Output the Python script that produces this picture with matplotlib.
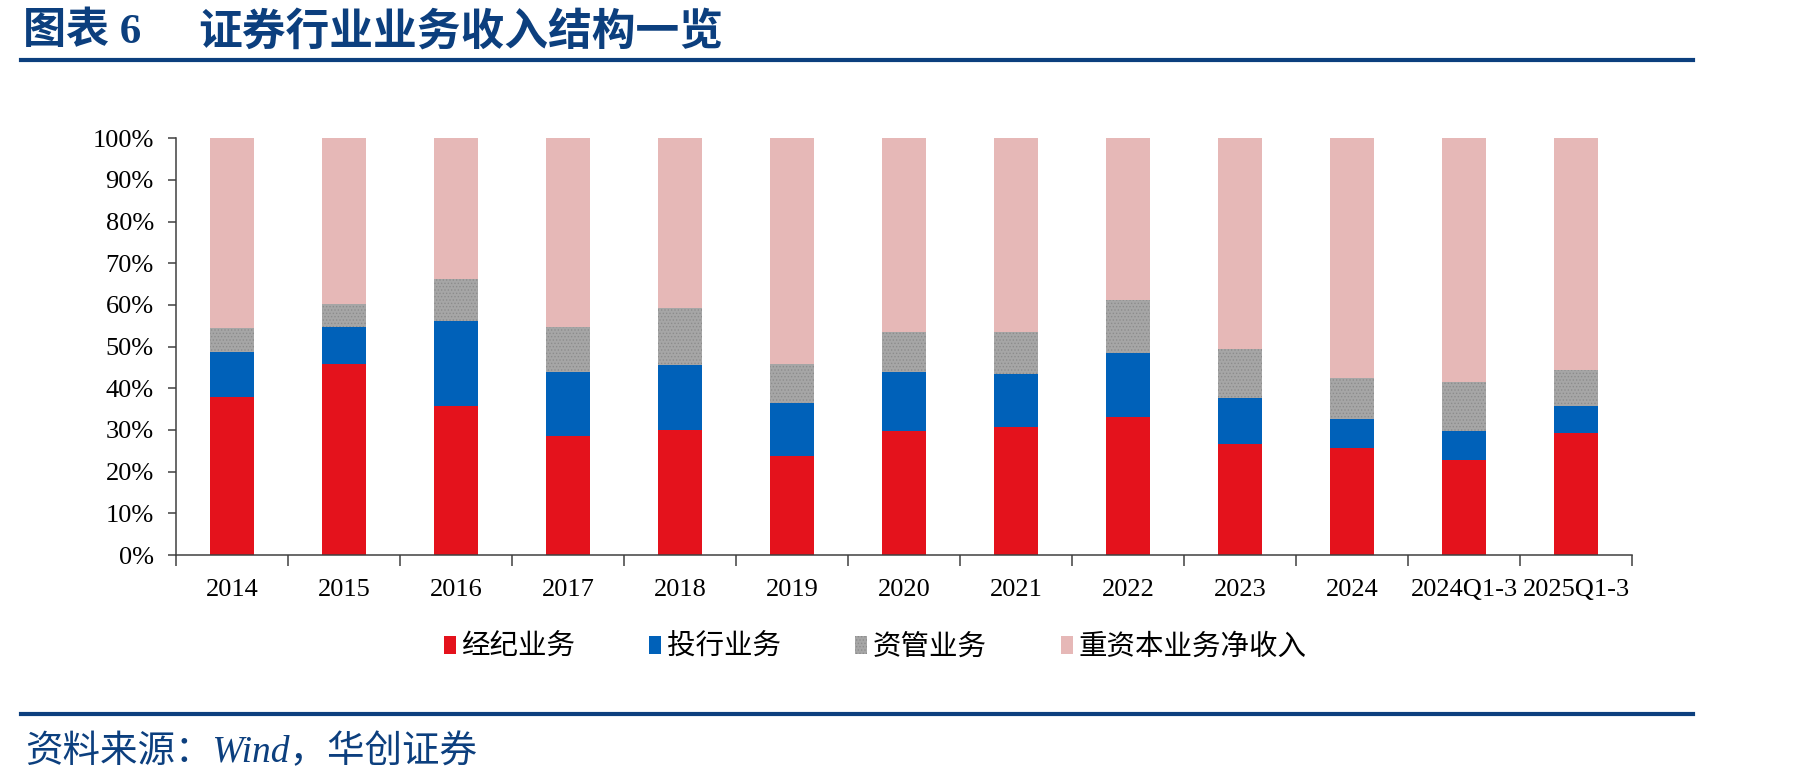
import numpy as np
import matplotlib
matplotlib.use('Agg')
import matplotlib.pyplot as plt
from matplotlib.lines import Line2D
from matplotlib.patches import Patch

plt.rcParams['font.family'] = ['Liberation Serif', 'Noto Sans CJK SC', 'DejaVu Sans']
plt.rcParams['hatch.linewidth'] = 0.6

categories = ['2014', '2015', '2016', '2017', '2018', '2019', '2020', '2021',
              '2022', '2023', '2024', '2024Q1-3', '2025Q1-3']
# shares of revenue, %
brokerage = [37.8, 45.9, 35.8, 28.6, 30.0, 23.8, 29.7, 30.6, 33.0, 26.6, 25.6, 22.8, 29.2]
inv_banking = [11.0, 8.9, 20.4, 15.2, 15.6, 12.6, 14.3, 12.8, 15.4, 11.1, 7.0, 6.9, 6.6]
asset_mgmt = [5.7, 5.4, 10.0, 11.0, 13.6, 9.5, 9.5, 10.1, 12.8, 11.7, 9.8, 11.7, 8.5]
capital_net = [45.5, 39.8, 33.8, 45.2, 40.8, 54.1, 46.5, 46.5, 38.8, 50.6, 57.6, 58.6, 55.7]
series_names = ['经纪业务', '投行业务', '资管业务', '重资本业务净收入']

colors = ['#E4121C', '#0061B9', '#A6A6A6', '#E6B8B7']
navy = '#0C3F7E'

fig = plt.figure(figsize=(18.01, 7.82), dpi=100)
ax = fig.add_axes([176 / 1801, 1 - 555 / 782, 1456 / 1801, 416.7 / 782])

x = np.arange(len(categories))
bottom = np.zeros(len(categories))
for i, vals in enumerate([brokerage, inv_banking, asset_mgmt, capital_net]):
    vals = np.array(vals) / 100.0
    if i == 2:
        ax.bar(x, vals, 0.4, bottom=bottom, color=colors[i], edgecolor='#8C8C8C',
               linewidth=0, hatch='.....')
    else:
        ax.bar(x, vals, 0.4, bottom=bottom, color=colors[i], linewidth=0)
    bottom += vals

ax.set_xlim(-0.5, len(categories) - 0.5)
ax.set_ylim(0, 1)
ax.set_yticks(np.arange(0, 1.01, 0.1))
ax.set_yticklabels(['%d%%' % v for v in range(0, 101, 10)])
ax.set_xticks(x)
ax.set_xticklabels(categories)
ax.set_xticks(np.arange(-0.5, len(categories), 1), minor=True)
ax.tick_params(axis='x', which='major', length=0, pad=17, labelsize=19)
ax.tick_params(axis='x', which='minor', length=8, width=1.1, color='#404040')
ax.tick_params(axis='y', length=6, width=1.1, color='#404040', pad=10, labelsize=19)
for s in ['top', 'right']:
    ax.spines[s].set_visible(False)
for s in ['left', 'bottom']:
    ax.spines[s].set_color('#404040')
    ax.spines[s].set_linewidth(1.1)

handles = [Patch(facecolor=colors[0], linewidth=0),
           Patch(facecolor=colors[1], linewidth=0),
           Patch(facecolor=colors[2], edgecolor='#8C8C8C', linewidth=0, hatch='.....'),
           Patch(facecolor=colors[3], linewidth=0)]
fig.legend(handles, series_names, loc='center', bbox_to_anchor=(875 / 1801, 1 - 647 / 782),
           ncol=4, frameon=False, handlelength=0.42, handleheight=0.6,
           handletextpad=0.2, columnspacing=2.6,
           prop={'family': ['Noto Sans CJK SC'], 'size': 20.5})

# title and rules
fig.text(23 / 1801, 1 - 32 / 782, '图表 6', fontsize=31, fontweight='bold', color=navy,
         ha='left', va='center')
fig.text(198 / 1801, 1 - 32 / 782, '证券行业业务收入结构一览', fontsize=31.5, fontweight='bold',
         color=navy, ha='left', va='center', family=['Noto Sans CJK SC'])
fig.add_artist(Line2D([21 / 1801, 1693 / 1801], [1 - 60 / 782, 1 - 60 / 782],
                      color=navy, linewidth=3))
fig.add_artist(Line2D([21 / 1801, 1693 / 1801], [1 - 714 / 782, 1 - 714 / 782],
                      color=navy, linewidth=3))
fig.text(25 / 1801, 1 - 752 / 782, '资料来源：Wind，华创证券', fontsize=27, style='italic',
         color=navy, ha='left', va='center')

fig.savefig('out.png', dpi=100)
